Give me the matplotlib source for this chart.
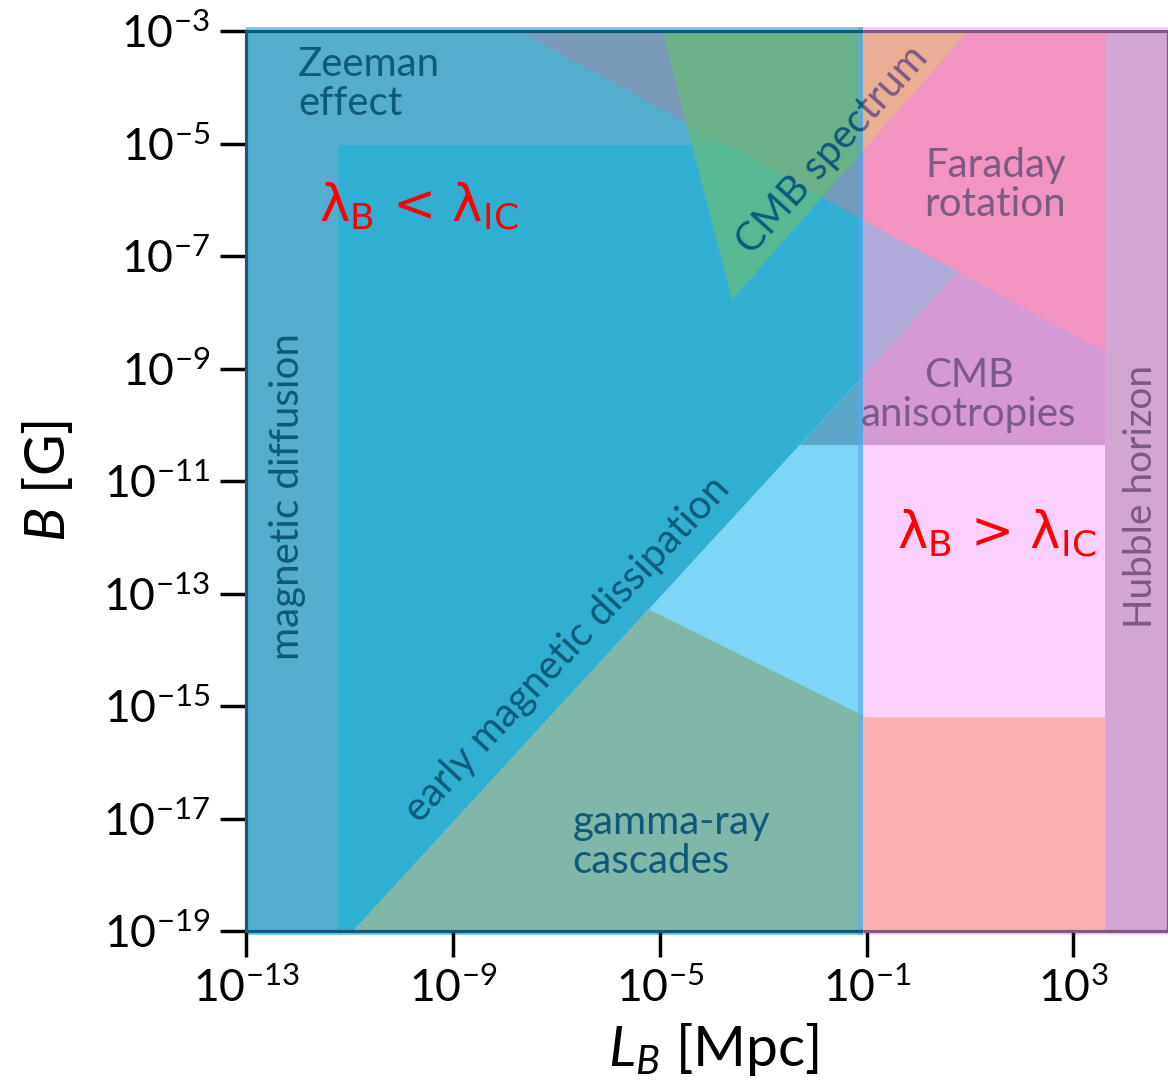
import matplotlib
matplotlib.use('Agg')
import matplotlib.pyplot as plt
from matplotlib.patches import Rectangle
from matplotlib.ticker import FixedLocator, NullLocator
from matplotlib.transforms import Bbox, TransformedBbox

plt.rcParams['font.family'] = ['Lato', 'DejaVu Sans']
plt.rcParams['mathtext.fontset'] = 'custom'
plt.rcParams['mathtext.rm'] = 'Lato'
plt.rcParams['mathtext.it'] = 'Lato:italic'
plt.rcParams['mathtext.bf'] = 'Lato:bold'

# ---- boundaries (all log10: L_B in Mpc, B in G) ----
L_lim = [-13, 4.83]
B_lim = [-19, -3]
L_ic = -1.07          # lambda_B = lambda_IC split
L_diff = -11.22       # magnetic diffusion
L_hub = 3.61          # Hubble horizon
B_zeeman = -5.03
B_aniso = -10.36
faraday_L = [-7.73, 3.61]
faraday_B = [-3.0, -8.71]
dissip_L = [-10.93, 0.80]
dissip_B = [-19.0, -7.27]
cmbspec_L = [-4.95, -3.60, 0.96]
cmbspec_B = [-3.0, -7.78, -3.0]
gamma_L = [-10.93, -5.22, -1.0, 3.61]
gamma_B = [-19.0, -13.28, -15.2, -15.2]

x_ticks = [-13, -9, -5, -1, 3]
y_ticks = [-19, -17, -15, -13, -11, -9, -7, -5, -3]

teal = '#0E5A7A'
plum = '#7B5A84'


def rect(l0, l1, b0, b1):
    return [(l0, b0), (l1, b0), (l1, b1), (l0, b1)]


def cut(poly, a, b):
    # keep the part of poly on the left of the line a -> b
    def side(p):
        return (b[0] - a[0]) * (p[1] - a[1]) - (b[1] - a[1]) * (p[0] - a[0])
    out = []
    for i in range(len(poly)):
        p, q = poly[i], poly[(i + 1) % len(poly)]
        sp, sq = side(p), side(q)
        if sp >= 0:
            out.append(p)
        if sp * sq < 0:
            t = sp / (sp - sq)
            out.append((p[0] + t * (q[0] - p[0]), p[1] + t * (q[1] - p[1])))
    return out


def inside(poly, box):
    for i in range(4):
        poly = cut(poly, box[i], box[(i + 1) % 4])
    return poly


far_a, far_b = (faraday_L[0], faraday_B[0]), (faraday_L[1], faraday_B[1])
dis_a, dis_b = (dissip_L[0], dissip_B[0]), (dissip_L[1], dissip_B[1])
cmb_tri = list(zip(cmbspec_L, cmbspec_B))
gamma_poly = list(zip(gamma_L, gamma_B)) + [(gamma_L[-1], B_lim[0])]

PL = rect(L_lim[0], L_ic, B_lim[0], B_lim[1])
PR = rect(L_ic, L_hub, B_lim[0], B_lim[1])
inner = rect(L_diff, L_ic, B_lim[0], B_zeeman)
zee = rect(L_lim[0], L_ic, B_zeeman, B_lim[1])

layers = [
    (PL, '#55ADCD'),
    (inner, '#31AFD2'),
    (cut(zee, far_a, far_b), '#7A9BBA'),
    (cut(inner, far_a, far_b), '#7398B8'),
    (cut(PL, dis_b, dis_a), '#7DD6F5'),
    (cut(rect(L_lim[0], L_ic, B_aniso, B_lim[1]), dis_b, dis_a), '#5BA7CB'),
    (inside(gamma_poly, PL), '#7FB7A9'),
    (inside(cmb_tri, PL), '#57B994'),
    (inside(cmb_tri, zee), '#5FB48F'),
    (cut(inside(cmb_tri, PL), far_a, far_b), '#6AB18A'),
    (PR, '#FBD0FC'),
    (rect(L_ic, L_hub, B_aniso, B_lim[1]), '#D59AD3'),
    (cut(PR, dis_a, dis_b), '#B0AAD8'),
    (cut(PR, far_a, far_b), '#F393C0'),
    (inside(cmb_tri, PR), '#E9AE94'),
    (inside(gamma_poly, PR), '#FBB1B0'),
    (rect(L_hub, L_lim[1], B_lim[0], B_lim[1]), '#D1A6D1'),
]

fig = plt.figure(figsize=(11.68, 10.85), dpi=100)
ax = fig.add_axes([246 / 1168, 154 / 1085, 922 / 1168, 900 / 1085])
ax.set_xscale('log')
ax.set_yscale('log')
ax.set_xlim(10 ** L_lim[0], 10 ** L_lim[1])
ax.set_ylim(10 ** B_lim[0], 10 ** B_lim[1])

for poly, col in layers:
    if len(poly) > 2:
        ax.fill([10 ** p[0] for p in poly], [10 ** p[1] for p in poly],
                color=col, lw=0, zorder=1)

# thin halo strips just outside the frame and at the panel split
xt = ax.get_xaxis_transform()
ax.add_patch(Rectangle((10 ** L_lim[0], -0.0045), 10 ** L_ic - 10 ** L_lim[0], 1.009,
                       transform=xt, color='#74CDF2', lw=0, zorder=0, clip_on=False))
ax.add_patch(Rectangle((10 ** L_ic, -0.0045), 10 ** L_lim[1] - 10 ** L_ic, 1.009,
                       transform=xt, color='#FBD0FC', lw=0, zorder=0, clip_on=False))
ax.add_patch(Rectangle((10 ** (L_ic - 0.1), -0.0045), 10 ** L_ic - 10 ** (L_ic - 0.1), 1.009,
                       transform=xt, color='#5AA8F0', alpha=0.6, lw=0, zorder=3, clip_on=False))

# frame, tinted per panel
for spine in ax.spines.values():
    spine.set_visible(False)
for y in (0, 1):
    ax.plot([10 ** L_lim[0], 10 ** L_ic], [y, y], transform=xt, color=teal, lw=2.3,
            solid_capstyle='butt', clip_on=False, zorder=4)
    ax.plot([10 ** L_ic, 10 ** L_lim[1]], [y, y], transform=xt, color=plum, lw=2.3,
            solid_capstyle='butt', clip_on=False, zorder=4)
ax.plot([0, 0], [0, 1], transform=ax.transAxes, color='#17587A', lw=2.3, clip_on=False, zorder=4)
ax.plot([1, 1], [0, 1], transform=ax.transAxes, color=plum, lw=2.3, clip_on=False, zorder=4)

# region labels
fs = 29
ax.text(10 ** -11.99, 10 ** -3.94, 'Zeeman\neffect', ha='left', va='center',
        color=teal, fontsize=fs, linespacing=1.05, zorder=5)
ax.text(10 ** 1.49, 10 ** -5.74, 'Faraday\nrotation', ha='center', va='center',
        color=plum, fontsize=fs, linespacing=1.05, zorder=5)
ax.text(10 ** 0.98, 10 ** -9.47, 'CMB\nanisotropies', ha='center', va='center',
        color=plum, fontsize=fs, linespacing=1.05, zorder=5)
ax.text(10 ** 4.31, 10 ** -11.28, 'Hubble horizon', ha='center', va='center',
        rotation=90, color=plum, fontsize=28, zorder=5)
ax.text(10 ** -12.2, 10 ** -11.28, 'magnetic diffusion', ha='center', va='center',
        rotation=90, color=teal, fontsize=fs, zorder=5)
ax.text(10 ** -6.79, 10 ** -14.0, 'early magnetic dissipation', ha='center', va='center',
        rotation=47, rotation_mode='anchor', color=teal, fontsize=fs, zorder=5)
ax.text(10 ** -6.69, 10 ** -17.42, 'gamma-ray\ncascades', ha='left', va='center',
        color=teal, fontsize=fs, linespacing=1.05, zorder=5)
# "CMB spectrum" crosses the split: teal on the left part, plum on the right part
for col, x0, x1 in ((teal, L_lim[0], L_ic), (plum, L_ic, L_lim[1])):
    t = ax.text(10 ** -1.67, 10 ** -5.12, 'CMB spectrum', ha='center', va='center',
                rotation=48, rotation_mode='anchor', color=col, fontsize=fs, zorder=5)
    t.set_clip_box(TransformedBbox(Bbox([[10 ** x0, 10 ** B_lim[0]],
                                         [10 ** x1, 10 ** B_lim[1]]]), ax.transData))
    t.set_clip_on(True)

lam_kw = dict(color='red', fontsize=37, family='DejaVu Sans', math_fontfamily='dejavusans',
              ha='center', va='center', zorder=6)
ax.text(10 ** -9.67, 10 ** -6.12, 'λ$_\\mathregular{B}$ < λ$_\\mathregular{IC}$', **lam_kw)
ax.text(10 ** 1.51, 10 ** -11.93, 'λ$_\\mathregular{B}$ > λ$_\\mathregular{IC}$', **lam_kw)

# axes
ax.xaxis.set_major_locator(FixedLocator([10.0 ** v for v in x_ticks]))
ax.yaxis.set_major_locator(FixedLocator([10.0 ** v for v in y_ticks]))
ax.xaxis.set_minor_locator(NullLocator())
ax.yaxis.set_minor_locator(NullLocator())
ax.tick_params(which='major', direction='out', length=19, width=2.5,
               labelsize=32, pad=7, color='black')
ax.set_xlabel(r'$L_B$ [Mpc]', fontsize=41)
ax.set_ylabel(r'$B$ [G]', fontsize=41)
ax.xaxis.set_label_coords(0.507, -0.132)
ax.yaxis.set_label_coords(-0.215, 0.5)
ax.xaxis.label.set_va('center')
ax.yaxis.label.set_va('center')

fig.savefig('out.png', dpi=100)
